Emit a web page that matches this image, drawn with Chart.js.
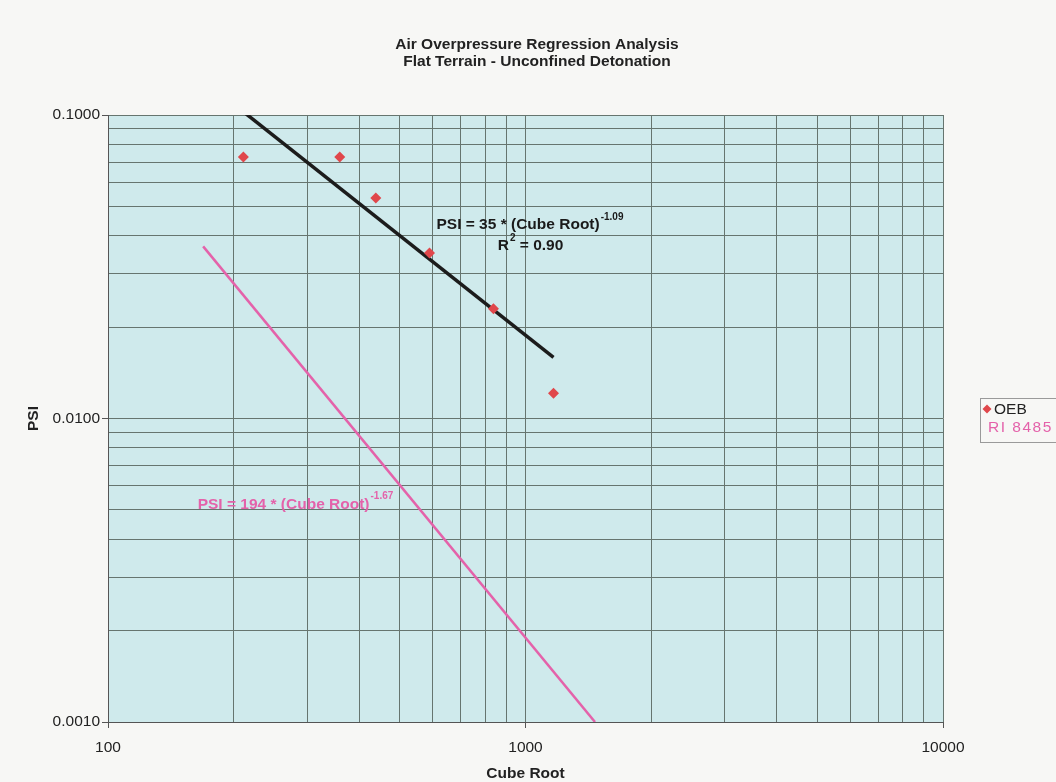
<!DOCTYPE html>
<html>
<head>
<meta charset="utf-8">
<title>Air Overpressure Regression Analysis</title>
<script src="https://cdn.jsdelivr.net/npm/chart.js@4.4.1/dist/chart.umd.min.js"></script>
<style>
  html, body { margin: 0; padding: 0; background: #f7f7f5; }
  #wrap { width: 1056px; height: 782px; }
</style>
</head>
<body>
<div id="wrap"><canvas id="chart" width="1056" height="782"></canvas></div>
<script>
// Measured OEB shots: scaled distance (cube root) vs peak air overpressure
const cubeRoot = [211, 359, 438, 589, 838, 1167];
const psiOEB = [0.0727, 0.0727, 0.0533, 0.0351, 0.0230, 0.0121];

// OEB power-law fit, PSI = 35 * CR^-1.09, evaluated at the ends of the data range
const oebFitX = [211, 1167];
const oebFitPSI = [0.1025, 0.0159];

// RI 8485 reference curve, PSI = 194 * CR^-1.67
const riX = [169, 1467];
const riPSI = [0.0369, 0.0010];

// Log axis ticks (labels only on decades)
const xTicks = [100, 200, 300, 400, 500, 600, 700, 800, 900, 1000,
                2000, 3000, 4000, 5000, 6000, 7000, 8000, 9000, 10000];
const yTicks = [0.001, 0.002, 0.003, 0.004, 0.005, 0.006, 0.007, 0.008, 0.009,
                0.01, 0.02, 0.03, 0.04, 0.05, 0.06, 0.07, 0.08, 0.09, 0.1];

const titleLines = ['Air Overpressure Regression Analysis', 'Flat Terrain - Unconfined Detonation'];
const xTitle = 'Cube Root';
const yTitle = 'PSI';

const FONT = '"Liberation Sans", Arial, Helvetica, sans-serif';
const FS = 15.5;
const RED = '#e0474b';
const PINK = '#e462aa';
const GRID = '#66756f';
const INK = '#222';

const isDecade = v => Math.abs(Math.log10(v) - Math.round(Math.log10(v))) < 1e-9;

const pts = (xs, ys) => xs.map((x, i) => ({ x: x, y: ys[i] }));

// Equation labels: text, superscript, anchor (data units, text middle)
const equations = [
  { main: 'PSI = 35 * (Cube Root)', sup: '-1.09', x: 612, y: 0.0434, color: '#1a1a1a', align: 'left' },
  { main: 'R', sup: '2', tail: ' = 0.90', x: 1028, y: 0.0370, color: '#1a1a1a', align: 'center' },
  { main: 'PSI = 194 * (Cube Root)', sup: '-1.67', x: 164, y: 0.0052, color: PINK, align: 'left' }
];

const backdrop = {
  id: 'backdrop',
  beforeDraw(chart) {
    const { ctx, chartArea: a } = chart;
    ctx.save();
    ctx.fillStyle = '#f7f7f5';
    ctx.fillRect(0, 0, chart.width, chart.height);
    ctx.fillStyle = '#cfeaec';
    ctx.fillRect(a.left, a.top, a.right - a.left, a.bottom - a.top);
    ctx.restore();
  }
};

const decorations = {
  id: 'decorations',
  afterDraw(chart) {
    const { ctx, chartArea: a } = chart;
    const xs = chart.scales.x, ys = chart.scales.y;
    ctx.save();
    ctx.textBaseline = 'middle';
    ctx.textAlign = 'center';
    ctx.fillStyle = INK;
    ctx.font = 'bold ' + FS + 'px ' + FONT;
    ctx.fillText(titleLines[0], 537, 45);
    ctx.fillText(titleLines[1], 537, 62);

    ctx.fillText(xTitle, (a.left + a.right) / 2, 774);
    ctx.save();
    ctx.translate(34, (a.top + a.bottom) / 2);
    ctx.rotate(-Math.PI / 2);
    ctx.fillText(yTitle, 0, 0);
    ctx.restore();

    // equation annotations
    ctx.textBaseline = 'middle';
    equations.forEach(eq => {
      const px = xs.getPixelForValue(eq.x);
      const py = ys.getPixelForValue(eq.y);
      const mainFont = 'bold ' + FS + 'px ' + FONT;
      const supFont = 'bold 10px ' + FONT;
      ctx.font = mainFont;
      const wMain = ctx.measureText(eq.main).width;
      const wTail = eq.tail ? ctx.measureText(eq.tail).width : 0;
      ctx.font = supFont;
      const wSup = ctx.measureText(eq.sup).width;
      const total = wMain + wSup + wTail + 1;
      const x0 = eq.align === 'center' ? px - total / 2 : px;
      ctx.fillStyle = eq.color;
      ctx.textAlign = 'left';
      ctx.font = mainFont;
      ctx.fillText(eq.main, x0, py);
      ctx.font = supFont;
      ctx.fillText(eq.sup, x0 + wMain + 1, py - 8);
      if (eq.tail) {
        ctx.font = mainFont;
        ctx.fillText(eq.tail, x0 + wMain + wSup + 1, py);
      }
    });

    // legend box
    const lx = 980, ly = 398;
    ctx.strokeStyle = '#9a9a9a';
    ctx.lineWidth = 1;
    ctx.strokeRect(lx + 0.5, ly + 0.5, 120, 44);
    ctx.fillStyle = RED;
    ctx.beginPath();
    ctx.moveTo(987, 404.5); ctx.lineTo(991.5, 409); ctx.lineTo(987, 413.5); ctx.lineTo(982.5, 409);
    ctx.closePath(); ctx.fill();
    ctx.font = FS + 'px ' + FONT;
    ctx.textBaseline = 'middle';
    ctx.textAlign = 'left';
    ctx.fillStyle = INK;
    ctx.fillText(chart.data.datasets[0].label, 994, 410);
    ctx.fillStyle = PINK;
    if ('letterSpacing' in ctx) ctx.letterSpacing = '1.5px';
    ctx.fillText(chart.data.datasets[2].label, 988, 428);
    ctx.restore();
  }
};

new Chart(document.getElementById('chart'), {
  type: 'scatter',
  data: {
    datasets: [
      {
        label: 'OEB',
        data: pts(cubeRoot, psiOEB),
        pointStyle: 'rectRot',
        pointRadius: 5.5,
        backgroundColor: RED,
        borderColor: RED,
        borderWidth: 0,
        showLine: false,
        order: 0
      },
      {
        label: 'OEB fit',
        data: pts(oebFitX, oebFitPSI),
        showLine: true,
        pointRadius: 0,
        borderColor: '#1c1c1c',
        borderWidth: 3.5,
        order: 1
      },
      {
        label: 'RI 8485',
        data: pts(riX, riPSI),
        showLine: true,
        pointRadius: 0,
        borderColor: PINK,
        borderWidth: 2.5,
        order: 2
      }
    ]
  },
  options: {
    responsive: false,
    animation: false,
    layout: { padding: { top: 115, right: 113, left: 0, bottom: 0 } },
    plugins: {
      legend: { display: false },
      title: { display: false },
      tooltip: { enabled: false }
    },
    scales: {
      x: {
        type: 'logarithmic',
        min: 100,
        max: 10000,
        afterBuildTicks: s => { s.ticks = xTicks.map(v => ({ value: v })); },
        afterFit: s => { s.height = 60; },
        grid: {
          color: GRID,
          lineWidth: 1,
          tickLength: 6,
          tickColor: c => (c.tick && isDecade(c.tick.value)) ? '#555' : 'rgba(0,0,0,0)'
        },
        border: { color: '#555', width: 1 },
        ticks: {
          autoSkip: false,
          maxRotation: 0,
          padding: 10,
          color: INK,
          font: { family: FONT, size: FS },
          callback: v => isDecade(v) ? String(Math.round(v)) : ''
        }
      },
      y: {
        type: 'logarithmic',
        min: 0.001,
        max: 0.1,
        afterBuildTicks: s => { s.ticks = yTicks.map(v => ({ value: v })); },
        afterFit: s => { s.width = 108; },
        grid: {
          color: GRID,
          lineWidth: 1,
          tickLength: 6,
          tickColor: c => (c.tick && isDecade(c.tick.value)) ? '#555' : 'rgba(0,0,0,0)'
        },
        border: { color: '#555', width: 1 },
        ticks: {
          autoSkip: false,
          padding: 2,
          color: INK,
          font: { family: FONT, size: FS },
          callback: v => isDecade(v) ? v.toFixed(4) : ''
        }
      }
    }
  },
  plugins: [backdrop, decorations]
});
</script>
</body>
</html>
